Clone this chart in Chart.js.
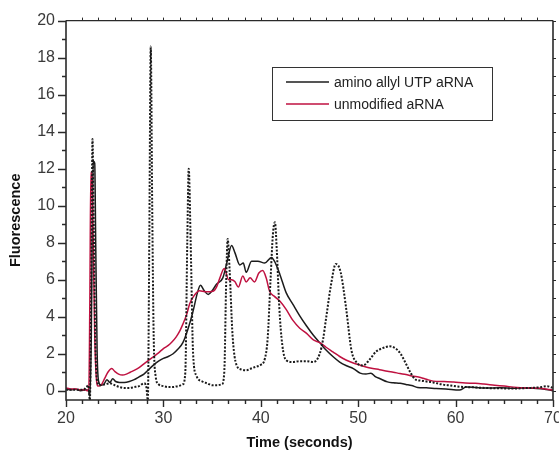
<!DOCTYPE html>
<html>
<head>
<meta charset="utf-8">
<script src="https://cdn.jsdelivr.net/npm/chart.js@4.4.1/dist/chart.umd.min.js"></script>
<style>
html,body{margin:0;padding:0;background:#fff;}
#wrap{position:relative;width:559px;height:453px;}
</style>
</head>
<body>
<div id="wrap"><canvas id="c" width="559" height="453"></canvas></div>
<script>
// ---- Data ----
const xTickValues = [20, 30, 40, 50, 60, 70];
const yTickValues = [0, 2, 4, 6, 8, 10, 12, 14, 16, 18, 20];
const yMinorValues = [1, 3, 5, 7, 9, 11, 13, 15, 17, 19];

const seriesNames = ["amino allyl UTP aRNA", "unmodified aRNA", "marker"];

const aminoX = [20.0,20.5,21.0,21.5,22.0,22.3,22.45,22.6,22.7,22.8,22.95,23.05,23.2,23.35,23.6,23.9,24.2,24.5,24.8,25.1,25.5,26.0,26.5,27.0,27.5,28.0,28.5,29.0,29.5,30.0,30.5,31.0,31.5,32.0,32.5,33.0,33.5,33.8,34.2,34.6,35.0,35.45,36.1,36.55,37.0,37.35,37.85,38.2,38.5,39.05,39.7,40.4,41.1,41.4,41.95,42.6,43.3,44.0,44.7,45.4,46.05,46.7,47.4,48.1,48.8,49.5,50.2,50.8,51.3,51.8,52.2,53.0,53.6,54.3,54.9,55.5,56.1,57.0,58.0,59.0,60.4,61.1,62.0,63.0,64.6,66.0,67.25,68.0,69.0,70.0];
const aminoY = [0.1,0.05,0.08,0.0,0.05,0.0,-0.3,3.0,9.0,12.4,12.3,8.0,2.0,0.5,0.3,0.35,0.6,0.45,0.65,0.5,0.45,0.45,0.5,0.6,0.75,0.9,1.15,1.4,1.6,1.75,1.85,2.0,2.25,2.6,3.3,4.2,5.3,5.7,5.4,5.2,5.4,5.75,6.1,7.0,7.85,7.45,6.8,6.9,6.4,7.0,7.0,6.9,7.2,7.0,6.3,5.3,4.67,4.05,3.5,3.0,2.6,2.2,1.85,1.55,1.35,1.2,0.95,0.9,0.95,0.75,0.66,0.48,0.43,0.4,0.34,0.28,0.18,0.16,0.12,0.1,0.04,0.2,0.18,0.15,0.16,0.14,0.15,0.13,0.1,0.0];

const unmodX = [20.0,20.5,21.0,21.5,22.0,22.2,22.35,22.45,22.55,22.65,22.8,22.95,23.1,23.3,23.6,24.0,24.3,24.7,25.0,25.4,25.8,26.2,26.6,27.0,27.5,28.0,28.5,29.0,29.5,30.0,30.5,30.85,31.3,31.7,32.0,32.4,32.7,33.1,33.7,34.3,35.1,35.45,35.8,36.25,36.7,37.0,37.33,37.7,38.15,38.5,38.9,39.35,39.8,40.2,40.55,40.9,41.4,41.95,42.6,43.3,44.0,44.7,45.4,46.05,46.7,47.4,48.1,48.8,49.5,50.2,50.8,51.5,52.2,53.0,53.6,54.3,54.9,55.5,56.4,57.0,57.7,58.8,59.8,61.0,62.0,62.9,64.0,65.0,66.3,67.5,68.7,70.0];
const unmodY = [0.15,0.1,0.1,0.05,0.05,0.0,0.2,5.0,11.8,11.6,8.0,3.0,0.8,0.25,0.3,0.7,1.0,1.2,1.05,0.9,0.85,0.9,1.0,1.1,1.25,1.45,1.65,1.85,2.05,2.28,2.45,2.62,2.9,3.25,3.6,4.14,4.7,5.1,5.4,5.35,5.38,5.6,6.1,6.6,6.0,6.0,5.9,5.6,6.2,5.88,6.1,5.88,6.36,6.5,6.1,5.38,5.1,4.85,4.4,3.8,3.38,3.1,2.75,2.6,2.35,2.1,1.85,1.65,1.5,1.38,1.28,1.2,1.14,1.05,1.0,0.93,0.88,0.8,0.72,0.62,0.52,0.5,0.47,0.42,0.4,0.36,0.3,0.25,0.18,0.15,0.13,0.04];

const markerX = [20.0,21.0,21.8,22.1,22.3,22.45,22.6,22.72,22.85,23.0,23.2,23.5,24.0,24.5,25.0,25.5,26.0,26.5,27.0,27.5,28.0,28.25,28.4,28.55,28.7,28.85,29.0,29.2,29.5,30.0,30.5,31.0,31.5,32.0,32.25,32.45,32.6,32.8,33.05,33.4,34.0,34.5,35.0,35.5,36.0,36.25,36.45,36.6,36.8,37.1,37.5,38.0,38.5,39.0,39.5,40.0,40.4,40.7,41.0,41.25,41.45,41.65,41.9,42.2,42.6,43.3,44.0,44.7,45.4,46.05,46.4,46.7,47.2,47.7,48.2,48.75,49.3,49.8,50.5,51.2,51.8,52.5,53.2,53.8,54.35,54.9,55.4,55.9,56.4,57.0,57.7,58.5,59.5,60.4,61.1,62.0,63.0,64.6,66.0,67.5,68.5,69.4,70.0];
const markerY = [0.05,0.05,0.05,0.2,0.3,-0.5,6.0,13.6,9.0,3.0,0.5,0.3,0.35,0.4,0.3,0.2,0.15,0.15,0.2,0.25,0.4,0.2,-0.5,8.0,18.6,10.0,3.0,0.8,0.35,0.25,0.2,0.2,0.25,0.35,1.0,8.0,12.0,8.0,2.0,0.8,0.5,0.4,0.3,0.3,0.35,1.0,6.0,8.2,6.5,3.0,1.4,1.15,1.1,1.2,1.3,1.4,1.7,2.8,6.0,8.5,9.1,7.5,4.5,2.5,1.65,1.55,1.6,1.6,1.55,2.0,2.8,3.9,5.7,6.85,6.4,4.5,2.2,1.55,1.37,1.7,2.1,2.3,2.4,2.3,2.0,1.46,0.95,0.6,0.55,0.5,0.45,0.35,0.28,0.22,0.2,0.18,0.15,0.13,0.12,0.15,0.18,0.24,0.15];

const toPoints = (xs, ys) => xs.map((x, i) => ({x: x, y: ys[i]}));

const FONT = "'Liberation Sans', Arial, Helvetica, sans-serif";
const RED = '#bf1140';
const BLACK = '#1c1c1c';

const framePlugin = {
  id: 'frame',
  afterDatasetsDraw(chart) {
    const ctx = chart.ctx;
    const a = chart.chartArea;
    const xs = chart.scales.x, ys = chart.scales.y;
    ctx.save();
    ctx.strokeStyle = '#2a2a2a';
    // frame lines
    ctx.lineWidth = 1.6;
    ctx.beginPath();
    ctx.moveTo(a.left, a.top); ctx.lineTo(a.left, a.bottom); ctx.lineTo(a.right, a.bottom); ctx.lineTo(a.right, a.top);
    ctx.stroke();
    ctx.lineWidth = 1.1;
    ctx.beginPath(); ctx.moveTo(a.left, a.top); ctx.lineTo(a.right, a.top); ctx.stroke();
    // left ticks
    ctx.lineWidth = 1.4;
    ctx.beginPath();
    yTickValues.forEach(v => { const p = Math.round(ys.getPixelForValue(v)) + 0.5; ctx.moveTo(a.left, p); ctx.lineTo(a.left - 8, p); });
    yMinorValues.forEach(v => { const p = Math.round(ys.getPixelForValue(v)) + 0.5; ctx.moveTo(a.left, p); ctx.lineTo(a.left - 4, p); });
    ctx.stroke();
    // right ticks
    ctx.lineWidth = 1;
    ctx.beginPath();
    yTickValues.concat(yMinorValues).forEach(v => { const p = Math.round(ys.getPixelForValue(v)) + 0.5; ctx.moveTo(a.right, p); ctx.lineTo(a.right + 3, p); });
    ctx.stroke();
    // bottom ticks
    ctx.lineWidth = 1.4;
    ctx.beginPath();
    xTickValues.forEach(v => { const p = Math.round(xs.getPixelForValue(v)) + 0.5; ctx.moveTo(p, a.bottom); ctx.lineTo(p, a.bottom + 7); });
    for (let i = 1; i < 30; i++) {
      if (i % 6 === 0) continue;
      const v = 20 + i * 10 / 6;
      const p = Math.round(xs.getPixelForValue(v)) + 0.5;
      ctx.moveTo(p, a.bottom); ctx.lineTo(p, a.bottom + 4);
    }
    ctx.stroke();
    // top ticks
    ctx.lineWidth = 1;
    ctx.beginPath();
    for (let i = 1; i < 30; i++) {
      const v = 20 + i * 10 / 6;
      const p = Math.round(xs.getPixelForValue(v)) + 0.5;
      ctx.moveTo(p, a.top); ctx.lineTo(p, a.top - 3);
    }
    ctx.stroke();

    // axis titles
    ctx.fillStyle = '#111';
    ctx.font = 'bold 14.5px ' + FONT;
    ctx.textAlign = 'center';
    ctx.textBaseline = 'middle';
    ctx.fillText('Time (seconds)', (a.left + a.right) / 2 - 10, 443);
    ctx.save();
    ctx.translate(16, (a.top + a.bottom) / 2 + 10);
    ctx.rotate(-Math.PI / 2);
    ctx.fillText('Fluorescence', 0, 0);
    ctx.restore();

    // legend box
    const lx = 272, ly = 67, lw = 220, lh = 53;
    ctx.fillStyle = '#fff';
    ctx.fillRect(lx, ly, lw, lh);
    ctx.strokeStyle = '#333';
    ctx.lineWidth = 1;
    ctx.strokeRect(lx + 0.5, ly + 0.5, lw, lh);
    const items = [{c: BLACK, t: seriesNames[0], y: 82}, {c: RED, t: seriesNames[1], y: 104}];
    ctx.font = '14px ' + FONT;
    ctx.textAlign = 'left';
    ctx.textBaseline = 'middle';
    items.forEach(it => {
      ctx.strokeStyle = it.c; ctx.lineWidth = 1.5;
      ctx.beginPath(); ctx.moveTo(286, it.y); ctx.lineTo(329, it.y); ctx.stroke();
      ctx.fillStyle = '#222';
      ctx.fillText(it.t, 334, it.y + 1);
    });
    ctx.restore();
  }
};

new Chart(document.getElementById('c'), {
  type: 'line',
  data: {
    datasets: [
      {label: seriesNames[2], data: toPoints(markerX, markerY), borderColor: '#1a1a1a', borderWidth: 2, borderDash: [2, 1.6], pointRadius: 0, cubicInterpolationMode: 'monotone', fill: false},
      {label: seriesNames[1], data: toPoints(unmodX, unmodY), borderColor: RED, borderWidth: 1.5, pointRadius: 0, cubicInterpolationMode: 'monotone', fill: false},
      {label: seriesNames[0], data: toPoints(aminoX, aminoY), borderColor: BLACK, borderWidth: 1.5, pointRadius: 0, cubicInterpolationMode: 'monotone', fill: false}
    ]
  },
  options: {
    responsive: false,
    animation: false,
    devicePixelRatio: 1,
    layout: {padding: {top: 17, right: 6, left: 0, bottom: 0}},
    plugins: {legend: {display: false}, tooltip: {enabled: false}},
    scales: {
      x: {
        type: 'linear', min: 20, max: 70,
        grid: {display: false, drawTicks: false},
        border: {display: false},
        ticks: {stepSize: 10, padding: 9, color: '#3a3a3a', font: {family: FONT, size: 16}, maxRotation: 0, autoSkip: false},
        afterBuildTicks: s => { s.ticks = xTickValues.map(v => ({value: v})); },
        afterFit: s => { s.height = 53; s.paddingLeft = 0; s.paddingRight = 0; }
      },
      y: {
        type: 'linear', min: -0.5, max: 20,
        grid: {display: false, drawTicks: false},
        border: {display: false},
        ticks: {padding: 11, color: '#3a3a3a', font: {family: FONT, size: 16}},
        afterBuildTicks: s => { s.ticks = yTickValues.map(v => ({value: v})); },
        afterFit: s => { s.width = 66; }
      }
    }
  },
  plugins: [framePlugin]
});
</script>
</body>
</html>
